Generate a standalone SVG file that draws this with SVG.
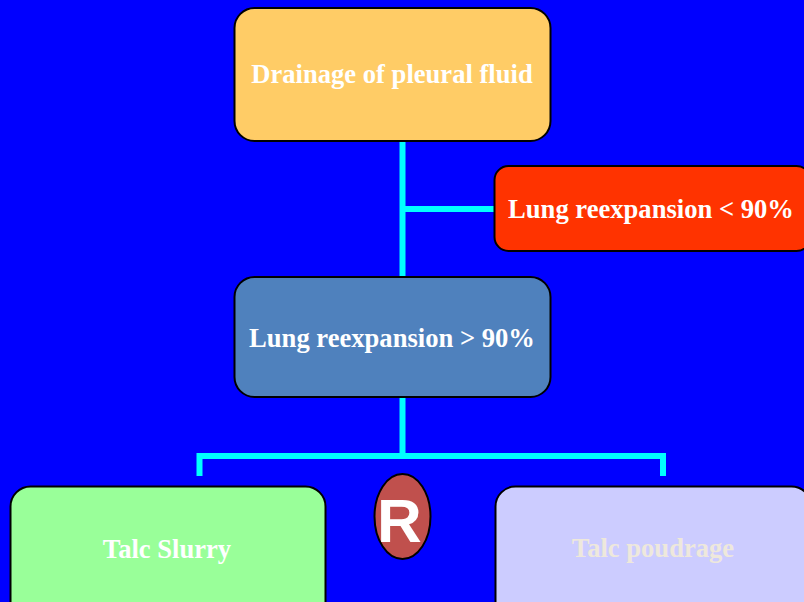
<svg xmlns="http://www.w3.org/2000/svg" width="804" height="602" viewBox="0 0 804 602">
  <style>
    .box { stroke: #000000; stroke-width: 2; }
    .label { font-family: "Liberation Serif", "Times New Roman", serif; font-weight: bold; font-size: 26.6px; text-anchor: middle; fill: #FFFFFF; }
    .link { stroke: #00FFFF; stroke-width: 6; fill: none; stroke-linecap: butt; }
  </style>
  <rect x="0" y="0" width="804" height="602" fill="#0000FF"/>

  <!-- connectors -->
  <g id="connectors">
    <path class="link" d="M402.5 141 V277"/>
    <path class="link" d="M402.5 209 H495"/>
    <path class="link" d="M402.5 397 V456"/>
    <path class="link" d="M199.5 476 V456 H663 V476"/>
  </g>

  <g id="drainage">
    <rect class="box" x="234.5" y="8" width="316" height="133" rx="20" fill="#FFCC66"/>
    <text class="label" x="392" y="83">Drainage of pleural fluid</text>
  </g>

  <g id="reexpansion-low">
    <rect class="box" x="494.5" y="166" width="316" height="85" rx="14" fill="#FF3300"/>
    <text class="label" x="651" y="218">Lung reexpansion &lt; 90%</text>
  </g>

  <g id="reexpansion-high">
    <rect class="box" x="234.5" y="277" width="316" height="120" rx="20" fill="#4F81BD"/>
    <text class="label" x="392" y="346.5">Lung reexpansion &gt; 90%</text>
  </g>

  <g id="talc-slurry">
    <rect class="box" x="10.5" y="486.5" width="315" height="140" rx="20" fill="#99FF99"/>
    <text class="label" x="167" y="557.5">Talc Slurry</text>
  </g>

  <g id="randomisation">
    <ellipse class="box" cx="402.5" cy="516.5" rx="28" ry="42.5" fill="#C0504D"/>
    <text x="399.5" y="541.5" font-family="Liberation Sans, Arial, sans-serif" font-weight="bold" font-size="62" text-anchor="middle" fill="#FFFFFF">R</text>
  </g>

  <g id="talc-poudrage">
    <rect class="box" x="495.5" y="486.5" width="316" height="140" rx="20" fill="#CCCCFF"/>
    <text class="label" x="653" y="557" style="fill:#EEE8DC">Talc poudrage</text>
  </g>
</svg>
